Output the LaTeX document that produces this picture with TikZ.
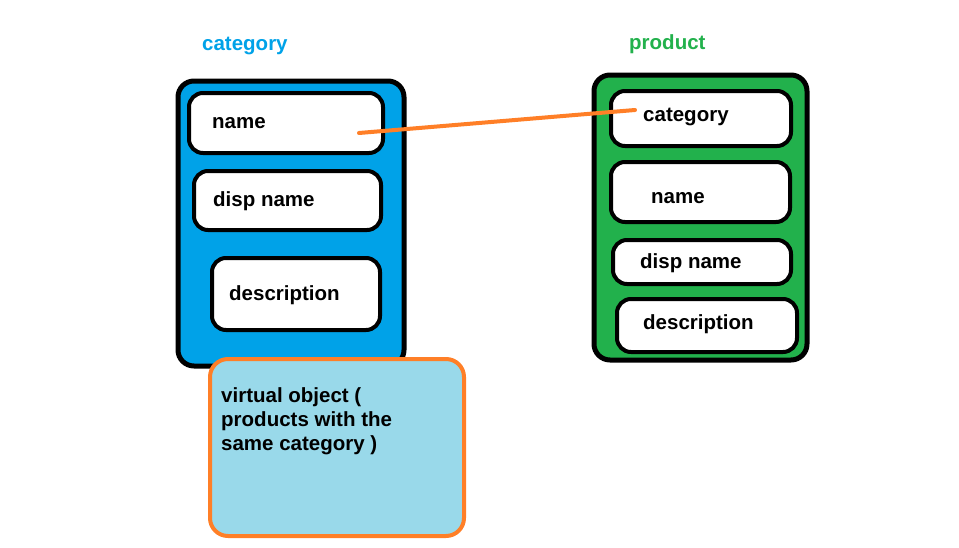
\documentclass[tikz,border=0pt]{standalone}
\usepackage{fontspec}
\setmainfont{Liberation Sans}
\definecolor{catblue}{HTML}{00A2E8}
\definecolor{prodgreen}{HTML}{22B14C}
\definecolor{linkorange}{HTML}{FF7F27}
\definecolor{virtblue}{HTML}{99D9EA}
\begin{document}
\begin{tikzpicture}[x=1pt,y=-1pt,
  outerbox/.style={draw=black,line width=5pt,rounded corners=16pt,inner sep=0pt},
  field/.style={draw=black,fill=white,line width=4pt,rounded corners=14pt,inner sep=0pt},
  lbl/.style={anchor=base west,inner sep=0pt,font=\fontsize{20.5}{24}\selectfont\bfseries},
  title/.style={anchor=base west,inner sep=0pt,font=\fontsize{20.5}{24}\selectfont\bfseries},
  link/.style={draw=linkorange,line width=4pt,line cap=round},
  virtbox/.style={draw=linkorange,fill=virtblue,line width=4pt,rounded corners=18pt,inner sep=0pt}]
\useasboundingbox (0,0) rectangle (959,547);
% titles
\node[title,text=catblue] (tcat) at (202,50) {category};
\node[title,text=prodgreen] (tprod) at (629,49) {product};
% category box
\node[outerbox,fill=catblue,minimum width=226pt,minimum height=285pt] (catbox) at (291,223.5) {};
\node[field,minimum width=194pt,minimum height=60pt] (cf1) at (286,123) {};
\node[field,minimum width=187pt,minimum height=59pt] (cf2) at (287.5,200.5) {};
\node[field,minimum width=168pt,minimum height=72pt] (cf3) at (296,294) {};
\node[lbl] (cname) at (212,128) {name};
\node[lbl] (cdisp) at (213,206) {disp name};
\node[lbl] (cdesc) at (229,300) {description};
% product box
\node[outerbox,fill=prodgreen,minimum width=213pt,minimum height=285pt] (prodbox) at (700.5,217.5) {};
\node[field,minimum width=180pt,minimum height=55pt] (pf1) at (701,118.5) {};
\node[field,minimum width=179pt,minimum height=60pt] (pf2) at (700.5,192) {};
\node[field,minimum width=178pt,minimum height=44pt] (pf3) at (702,262) {};
\node[field,minimum width=180pt,minimum height=53pt] (pf4) at (707,325.5) {};
\node[lbl] (pcat) at (643,121) {category};
\node[lbl] (pname) at (651,203) {name};
\node[lbl] (pdisp) at (640,268) {disp name};
\node[lbl] (pdesc) at (643,329) {description};
% link
\coordinate (la) at (359,133);
\coordinate (lb) at (635,110);
\draw[link] (la) -- (lb);
% virtual object
\node[virtbox,minimum width=254pt,minimum height=177pt] (vbox) at (337,447.5) {};
\node[lbl] (v1) at (221,402) {virtual object (};
\node[lbl] (v2) at (221,426) {products with the};
\node[lbl] (v3) at (221,450) {same category )};
\end{tikzpicture}
\end{document}
